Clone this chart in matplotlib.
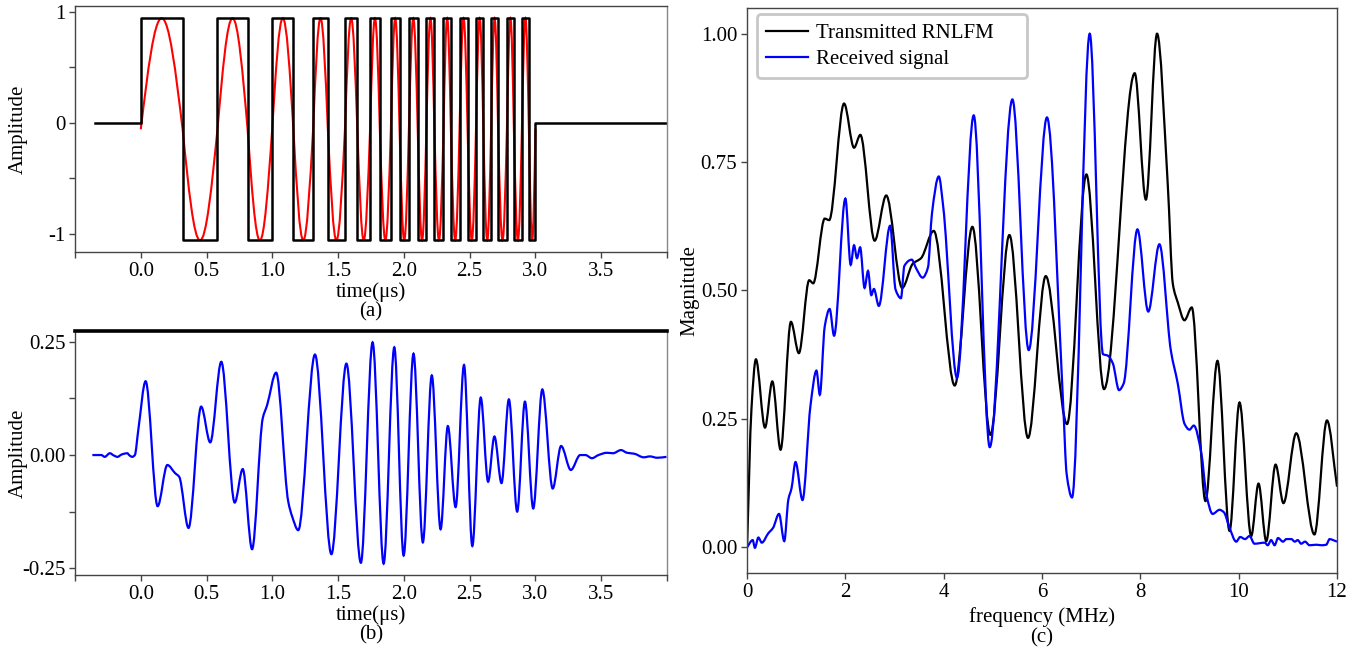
import numpy as np
import matplotlib
matplotlib.use("Agg")
import matplotlib.pyplot as plt
from matplotlib.path import Path
from matplotlib.patches import PathPatch
from matplotlib.lines import Line2D
from matplotlib.ticker import FixedLocator, FixedFormatter

plt.rcParams['font.family'] = ['Liberation Serif', 'DejaVu Serif']
plt.rcParams['font.size'] = 15
plt.rcParams['axes.unicode_minus'] = False

# ---------------- data ---------------- #
# (a) switching instants of the binary chirp (us), high/low levels
switch_t = [0.0, 0.318, 0.583, 0.812, 0.999, 1.160, 1.310, 1.422, 1.552, 1.646,
            1.743, 1.817, 1.901, 1.967, 2.038, 2.105, 2.171, 2.232, 2.301, 2.357,
            2.423, 2.484, 2.548, 2.604, 2.663, 2.716, 2.783, 2.836, 2.897, 2.950, 3.0]
sq_start, sq_end = -0.35, 4.0
sq_high, sq_low = 0.94, -1.06
sine_offset = -0.06

# (b) received waveform, key points (us, amplitude)
b_t = [-0.368, -0.30, -0.274, -0.235, -0.205, -0.177, -0.147, -0.125, -0.103, -0.085,
       -0.065, -0.045, -0.019, 0.037, 0.128, 0.202, 0.261, 0.292, 0.363, 0.459,
       0.528, 0.612, 0.714, 0.775, 0.846, 0.927, 0.960, 1.029, 1.121, 1.151,
       1.197, 1.324, 1.449, 1.563, 1.673, 1.762, 1.846, 1.927, 1.998, 2.073,
       2.144, 2.212, 2.279, 2.334, 2.393, 2.457, 2.520, 2.584, 2.640, 2.688,
       2.742, 2.798, 2.861, 2.920, 2.983, 3.052, 3.131, 3.195, 3.269, 3.340,
       3.38, 3.429, 3.479, 3.543, 3.59, 3.650, 3.696, 3.75, 3.823, 3.87,
       3.925, 3.996]
b_amp = [0.0, 0.0, -0.004, 0.004, -0.001, -0.004, 0.001, 0.003, 0.004, -0.001,
         -0.004, 0.0, 0.055, 0.163, -0.113, -0.022, -0.040, -0.048, -0.161, 0.107,
         0.028, 0.206, -0.105, -0.031, -0.208, 0.081, 0.110, 0.182, -0.103, -0.136,
         -0.166, 0.222, -0.219, 0.202, -0.238, 0.249, -0.240, 0.238, -0.222, 0.224,
         -0.193, 0.176, -0.164, 0.064, -0.115, 0.199, -0.201, 0.127, -0.059, 0.041,
         -0.062, 0.123, -0.125, 0.118, -0.118, 0.145, -0.074, 0.020, -0.033, 0.0,
         0.0, -0.007, 0.0, 0.005, 0.004, 0.011, 0.005, 0.003, -0.005, -0.003,
         -0.006, -0.004]

# (c) spectra, key points (MHz, normalised magnitude)
tx_f = [0.0, 0.09, 0.18, 0.365, 0.514, 0.682, 0.892, 1.054, 1.264, 1.345,
        1.58, 1.67, 1.973, 2.176, 2.304, 2.595, 2.831, 3.155, 3.37, 3.54,
        3.797, 4.224, 4.583, 4.949, 5.336, 5.715, 6.075, 6.508, 6.902, 7.261,
        7.885, 8.112, 8.339, 8.557, 8.66, 8.76, 8.896, 9.045, 9.324, 9.568,
        9.813, 10.016, 10.254, 10.403, 10.56, 10.75, 10.91, 11.17, 11.54, 11.795,
        12.0]
tx_mag = [0.0, 0.27, 0.366, 0.233, 0.323, 0.190, 0.439, 0.378, 0.520, 0.514,
          0.640, 0.637, 0.864, 0.778, 0.803, 0.597, 0.685, 0.505, 0.552, 0.563,
          0.616, 0.315, 0.624, 0.219, 0.608, 0.213, 0.528, 0.240, 0.726, 0.308,
          0.923, 0.677, 1.0, 0.706, 0.513, 0.477, 0.442, 0.467, 0.090, 0.363,
          0.032, 0.282, 0.022, 0.124, 0.012, 0.161, 0.086, 0.222, 0.025, 0.247,
          0.118]

rx_f = [0.0, 0.115, 0.16, 0.23, 0.30, 0.43, 0.53, 0.65, 0.757, 0.84,
        0.905, 0.986, 1.128, 1.29, 1.412, 1.48, 1.58, 1.68, 1.77, 2.0,
        2.108, 2.176, 2.236, 2.30, 2.39, 2.46, 2.527, 2.58, 2.68, 2.91,
        3.02, 3.13, 3.20, 3.35, 3.44, 3.57, 3.68, 3.76, 3.90, 3.99,
        4.27, 4.61, 4.936, 5.397, 5.729, 6.10, 6.43, 6.50, 6.61, 6.97,
        7.24, 7.34, 7.44, 7.566, 7.66, 7.94, 8.16, 8.387, 8.62, 8.76,
        8.90, 8.998, 9.086, 9.24, 9.34, 9.47, 9.61, 9.70, 9.81, 9.95,
        10.03, 10.13, 10.22, 10.32, 10.53, 10.59, 10.66, 10.73, 10.80, 10.90,
        10.97, 11.07, 11.14, 11.20, 11.27, 11.35, 11.44, 11.58, 11.68, 11.78,
        11.85, 11.92, 12.0]
rx_mag = [0.0, 0.014, -0.001, 0.019, 0.009, 0.027, 0.038, 0.065, 0.012, 0.093,
          0.115, 0.166, 0.092, 0.276, 0.344, 0.297, 0.43, 0.464, 0.412, 0.679,
          0.55, 0.588, 0.563, 0.584, 0.505, 0.538, 0.491, 0.503, 0.47, 0.626,
          0.502, 0.485, 0.548, 0.56, 0.543, 0.525, 0.545, 0.649, 0.722, 0.663,
          0.33, 0.841, 0.195, 0.872, 0.384, 0.837, 0.276, 0.143, 0.097, 1.0,
          0.376, 0.373, 0.358, 0.306, 0.319, 0.619, 0.459, 0.59, 0.383, 0.319,
          0.24, 0.229, 0.237, 0.183, 0.104, 0.065, 0.073, 0.068, 0.039, 0.011,
          0.02, 0.016, 0.022, 0.007, 0.009, 0.004, 0.014, 0.004, 0.018, 0.011,
          0.016, 0.016, 0.011, 0.014, 0.007, 0.011, 0.004, 0.005, 0.004, 0.005,
          0.016, 0.014, 0.011]


# ---------------- helpers: smooth curves drawn as bezier paths ---------------- #
def smooth_path(x, y):
    """monotone cubic (pchip) through the points, drawn as bezier segments"""
    x = np.asarray(x, float)
    y = np.asarray(y, float)
    h = np.diff(x)
    d = np.diff(y) / h
    m = np.zeros_like(x)
    m[0], m[-1] = d[0], d[-1]
    for k in range(1, len(x) - 1):
        if d[k - 1] * d[k] > 0:
            w1 = 2 * h[k] + h[k - 1]
            w2 = h[k] + 2 * h[k - 1]
            m[k] = (w1 + w2) / (w1 / d[k - 1] + w2 / d[k])
    verts = [(x[0], y[0])]
    codes = [Path.MOVETO]
    for k in range(len(x) - 1):
        verts += [(x[k] + h[k] / 3, y[k] + m[k] * h[k] / 3),
                  (x[k + 1] - h[k] / 3, y[k + 1] - m[k + 1] * h[k] / 3),
                  (x[k + 1], y[k + 1])]
        codes += [Path.CURVE4] * 3
    return Path(verts, codes)


def half_sine_path(crossings, base, amp):
    """alternating half-sine lobes between successive zero crossings"""
    verts = [(crossings[0], base)]
    codes = [Path.MOVETO]
    sign = 1
    for t0, t1 in zip(crossings[:-1], crossings[1:]):
        q = (t1 - t0) / 2
        a = sign * amp
        tm = t0 + q
        verts += [(t0 + 0.3261 * q, base + 0.5123 * a), (t0 + 0.6381 * q, base + a), (tm, base + a),
                  (tm + 0.3619 * q, base + a), (t1 - 0.3261 * q, base + 0.5123 * a), (t1, base)]
        codes += [Path.CURVE4] * 6
        sign = -sign
    return Path(verts, codes)


def style_axes(ax):
    for s in ax.spines.values():
        s.set_color('#444444')
        s.set_linewidth(1.0)
    ax.spines['right'].set_color('#888888')
    ax.tick_params(which='both', direction='out', length=4, width=1, color='#444444', pad=3)


# ---------------- figure ---------------- #
fig = plt.figure(figsize=(13.61, 6.52), dpi=100)
ax_a = fig.add_axes([0.0551, 0.6135, 0.4350, 0.3773])
ax_b = fig.add_axes([0.0551, 0.1181, 0.4350, 0.3742])
ax_c = fig.add_axes([0.5489, 0.1212, 0.4335, 0.8665])

time_ticks = [-0.5, 0.0, 0.5, 1.0, 1.5, 2.0, 2.5, 3.0, 3.5, 4.0]
time_labels = ['', '0.0', '0.5', '1.0', '1.5', '2.0', '2.5', '3.0', '3.5', '']

# (a) binary chirp + sine chirp
sq_x = [sq_start] + switch_t + [sq_end]
sq_y = [0.0] + [sq_high if i % 2 == 0 else sq_low for i in range(len(switch_t) - 1)] + [0.0, 0.0]
ax_a.plot(sq_x, sq_y, drawstyle='steps-post', color='black', lw=1.8)
ax_a.add_patch(PathPatch(half_sine_path(switch_t, sine_offset, 1.0),
                         fill=False, edgecolor='red', lw=1.5))
ax_a.set_xlim(-0.5, 4.0)
ax_a.set_ylim(-1.165, 1.05)
ax_a.yaxis.set_major_locator(FixedLocator([-1, 0, 1]))
ax_a.yaxis.set_major_formatter(FixedFormatter(['-1', '0', '1']))
ax_a.yaxis.set_minor_locator(FixedLocator([-0.5, 0.5]))
ax_a.xaxis.set_major_locator(FixedLocator(time_ticks))
ax_a.xaxis.set_major_formatter(FixedFormatter(time_labels))
ax_a.set_ylabel('Amplitude')
ax_a.set_xlabel('time(μs)\n(a)', linespacing=1.05, labelpad=1)
ax_a.yaxis.set_label_coords(-0.08, 0.5)
style_axes(ax_a)

# (b) received waveform
ax_b.add_patch(PathPatch(smooth_path(b_t, b_amp), fill=False, edgecolor='#0000ff', lw=1.6))
ax_b.set_xlim(-0.5, 4.0)
ax_b.set_ylim(-0.265, 0.274)
ax_b.yaxis.set_major_locator(FixedLocator([-0.25, 0.0, 0.25]))
ax_b.yaxis.set_major_formatter(FixedFormatter(['-0.25', '0.00', '0.25']))
ax_b.yaxis.set_minor_locator(FixedLocator([-0.125, 0.125]))
ax_b.xaxis.set_major_locator(FixedLocator(time_ticks))
ax_b.xaxis.set_major_formatter(FixedFormatter(time_labels))
ax_b.set_ylabel('Amplitude')
ax_b.set_xlabel('time(μs)\n(b)', linespacing=1.05, labelpad=1)
ax_b.yaxis.set_label_coords(-0.08, 0.5)
style_axes(ax_b)
ax_b.spines['top'].set_color('black')
ax_b.spines['top'].set_linewidth(2.6)

# (c) spectra
ax_c.add_patch(PathPatch(smooth_path(tx_f, tx_mag), fill=False, edgecolor='black', lw=1.6))
ax_c.add_patch(PathPatch(smooth_path(rx_f, rx_mag), fill=False, edgecolor='#0000ff', lw=1.6))
ax_c.set_xlim(0, 12)
ax_c.set_ylim(-0.05, 1.05)
ax_c.set_xticks([0, 2, 4, 6, 8, 10, 12])
ax_c.set_yticks([0.0, 0.25, 0.5, 0.75, 1.0])
ax_c.yaxis.set_major_formatter(plt.FormatStrFormatter('%.2f'))
ax_c.set_ylabel('Magnitude')
ax_c.set_xlabel('frequency (MHz)\n(c)', linespacing=1.05, labelpad=4)
ax_c.yaxis.set_label_coords(-0.08, 0.5)
style_axes(ax_c)
ax_c.spines['right'].set_color('#444444')

handles = [Line2D([], [], color='black', lw=1.6, label='Transmitted RNLFM'),
           Line2D([], [], color='#0000ff', lw=1.6, label='Received signal')]
leg = ax_c.legend(handles=handles, loc='upper left', mode='expand',
                  bbox_to_anchor=(0.017, 0.0, 0.4576, 0.989), borderaxespad=0.0,
                  framealpha=1.0, handlelength=2.0, handletextpad=0.4,
                  borderpad=0.45, labelspacing=0.3)
leg.get_frame().set_edgecolor('#c8c8c8')
leg.get_frame().set_linewidth(2.0)

fig.savefig('out.png', dpi=100)
